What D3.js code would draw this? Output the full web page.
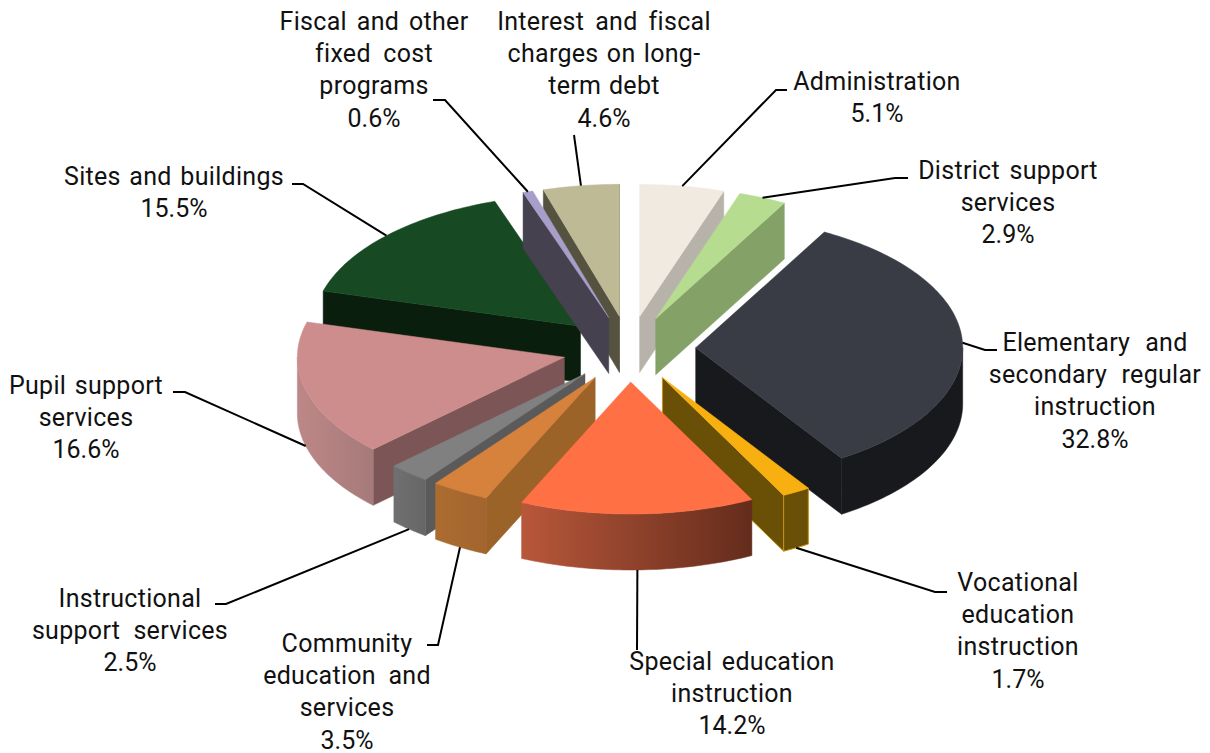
<!DOCTYPE html>
<html lang="en">
<head>
    <meta charset="UTF-8">
    <title>Expenditures by function</title>
    <script src="https://d3js.org/d3.v7.min.js"></script>
    <style>
        html, body { margin: 0; padding: 0; background: #fff; }
        svg { display: block; }
        .label { font-family: Roboto, sans-serif; font-size: 25px; fill: #111; }
        .leader { fill: none; stroke: #000; stroke-width: 2; }
    </style>
</head>
<body>
    <svg width="1210" height="753"></svg>

    <script>
        const categories = ["Administration", "District support services", "Elementary and secondary regular instruction",
            "Vocational education instruction", "Special education instruction", "Community education and services",
            "Instructional support services", "Pupil support services", "Sites and buildings",
            "Fiscal and other fixed cost programs", "Interest and fiscal charges on long-term debt"];
        const values = [5.1, 2.9, 32.8, 1.7, 14.2, 3.5, 2.5, 16.6, 15.5, 0.6, 4.6];
        const labelLines = [
            ["Administration"],
            ["District support", "services"],
            ["Elementary and", "secondary regular", "instruction"],
            ["Vocational", "education", "instruction"],
            ["Special education", "instruction"],
            ["Community", "education and", "services"],
            ["Instructional", "support services"],
            ["Pupil support", "services"],
            ["Sites and buildings"],
            ["Fiscal and other", "fixed cost", "programs"],
            ["Interest and fiscal", "charges on long-", "term debt"]
        ];
        // the labels are justified in the original, so each line has its own word gap
        const wordGaps = [
            [0],
            [3, 0],
            [8.4, 8, 0],
            [0, 0, 0],
            [3, 0],
            [0, 6, 0],
            [0, 6.6],
            [2, 0],
            [2.1],
            [3.3, 6, 0],
            [4.5, 1.8, 1.2]
        ];

        // colours: top face, side walls, outer wall left and right
        const topColors = ["#f0eae1", "#b6dc8f", "#393c45", "#f8b010", "#ff7044", "#d6823c", "#808080", "#ce8d8d", "#174a22", "#a79fca", "#bfba96"];
        const wallColors = ["#b8b3aa", "#84a268", "#17191c", "#6a5006", "#000", "#9c6329", "#5a5a5a", "#7c5656", "#0a1e0e", "#46414f", "#565240"];
        const rimLeft = ["#b8b3aa", "#84a268", "#18191c", "#6a5006", "#b8573a", "#ac6c30", "#707070", "#be8787", "#0a1e0e", "#46414f", "#565240"];
        const rimRight = ["#b8b3aa", "#84a268", "#18191c", "#6a5006", "#642c1c", "#a3652e", "#666666", "#a67a7a", "#0a1e0e", "#46414f", "#565240"];
        // only the vocational slice has a visible outline on its walls
        const outlined = 3, outlineColor = "#c8930c";

        // back to front
        const drawOrder = [8, 10, 9, 0, 1, 2, 7, 6, 3, 5, 4];

        const svg = d3.select("svg");
        const cx = 629, cy = 349, rx = 267, ry = 132, depth = 56, explode = 0.25;

        const x = d3.scaleLinear().domain([-1, 1]).range([cx - rx, cx + rx]);
        const y = d3.scaleLinear().domain([-1, 1]).range([cy - ry, cy + ry]);

        const arcs = d3.pie().sort(null)(values);
        const PI = Math.PI;

        // point on the slice at angle a, radius r (1 = rim), dz px under the top face
        function pt(d, a, r, dz) {
            const mid = (d.startAngle + d.endAngle) / 2;
            return [
                x(explode * Math.sin(mid) + r * Math.sin(a)),
                y(-explode * Math.cos(mid) - r * Math.cos(a)) + (dz || 0)
            ];
        }

        function angles(a0, a1) {
            const n = Math.max(2, Math.ceil((a1 - a0) / 0.02));
            return d3.range(n + 1).map(i => a0 + (a1 - a0) * i / n);
        }

        const line = d3.line();
        const defs = svg.append("defs");
        const pie = svg.append("g");

        drawOrder.forEach(i => {
            const d = arcs[i];
            const g = pie.append("g");
            const edge = i === outlined ? outlineColor : null;
            const wall = (a) => {
                const pts = [pt(d, a, 0), pt(d, a, 1), pt(d, a, 1, depth), pt(d, a, 0, depth)];
                g.append("path").attr("d", line(pts) + "Z")
                    .attr("fill", wallColors[i]).attr("stroke", edge || wallColors[i]).attr("stroke-width", edge ? 1 : 0.5);
            };
            if (Math.sin(d.startAngle) < 0) wall(d.startAngle);
            if (Math.sin(d.endAngle) > 0) wall(d.endAngle);

            // outer wall, only the front half of the ellipse shows
            const a0 = Math.max(d.startAngle, PI / 2), a1 = Math.min(d.endAngle, 3 * PI / 2);
            if (a1 > a0) {
                const as = angles(a0, a1);
                const up = as.map(a => pt(d, a, 1));
                const down = as.map(a => pt(d, a, 1, depth)).reverse();
                const id = "rim" + i;
                const xs = up.map(p => p[0]);
                const grad = defs.append("linearGradient").attr("id", id)
                    .attr("gradientUnits", "userSpaceOnUse")
                    .attr("x1", d3.min(xs)).attr("x2", d3.max(xs)).attr("y1", 0).attr("y2", 0);
                grad.append("stop").attr("offset", 0).attr("stop-color", rimLeft[i]);
                grad.append("stop").attr("offset", 1).attr("stop-color", rimRight[i]);
                g.append("path").attr("d", line(up.concat(down)) + "Z")
                    .attr("fill", `url(#${id})`).attr("stroke", edge || `url(#${id})`).attr("stroke-width", edge ? 1 : 0.5);
            }

            const top = [pt(d, 0, 0)].concat(angles(d.startAngle, d.endAngle).map(a => pt(d, a, 1)));
            g.append("path").attr("d", line(top) + "Z")
                .attr("fill", topColors[i]).attr("stroke", topColors[i]).attr("stroke-width", 0.5);
        });

        // label layout: centre x, first line y (middle), elbow of the leader, end of the leader
        const labelX = [877, 1008, 1095, 1018, 732, 347, 130, 86, 174, 374, 604];
        const labelY = [81, 170, 342, 582, 661, 643, 598, 385, 176, 21, 21];
        const elbows = [[776, 90], [895, 178], [985, 350], [935, 592], [637, 650], [438, 645], [226, 604], [185, 392], [303, 184], [445, 100], [574, 135]];
        const ends = [[787, 90], [908, 178], [997, 350], [947, 592], null, [427, 645], [215, 604], [173, 392], [292, 184], [433, 100], null];
        const lineStep = 32.4;

        arcs.forEach((d, i) => {
            const mid = (d.startAngle + d.endAngle) / 2;
            const start = pt(d, mid, 1, Math.cos(mid) < 0 ? depth : 0);
            const pts = [start, elbows[i]];
            if (ends[i]) pts.push(ends[i]);
            svg.append("path").attr("class", "leader").attr("d", line(pts));

            const nameRows = labelLines[i].length;
            const rows = labelLines[i].concat([values[i].toFixed(1) + "%"]);
            svg.append("g").selectAll("text").data(rows).enter().append("text")
                .attr("class", "label")
                .attr("text-anchor", "middle")
                .attr("dominant-baseline", "central")
                .attr("x", labelX[i])
                .attr("y", (r, k) => labelY[i] + k * lineStep)
                .style("letter-spacing", (r, k) => k < nameRows ? "0.3px" : null)
                .style("word-spacing", (r, k) => k < nameRows ? wordGaps[i][k] + "px" : null)
                .text(r => r);
        });
    </script>
</body>
</html>
